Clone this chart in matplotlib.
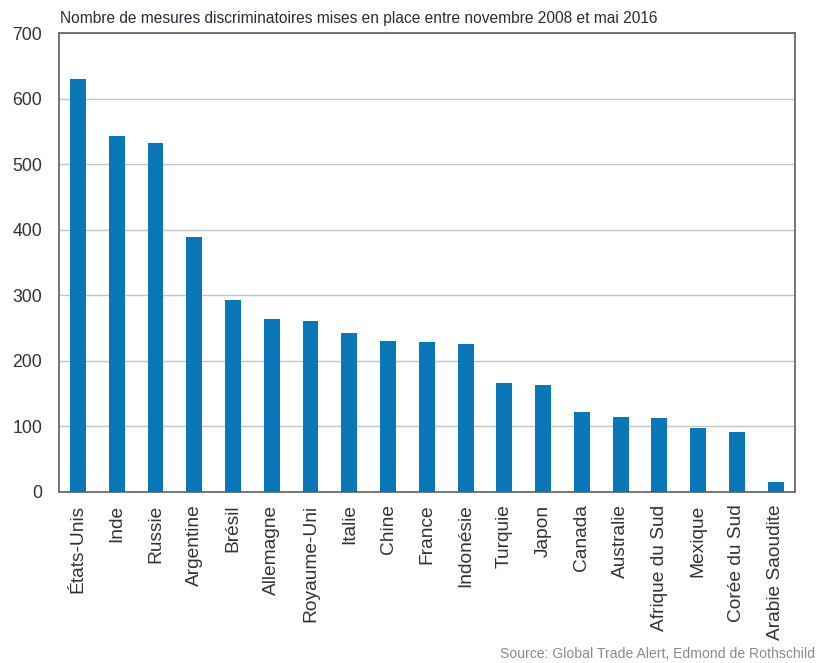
import matplotlib
matplotlib.use('Agg')
import matplotlib.pyplot as plt

matplotlib.rcParams['font.family'] = ['Liberation Sans', 'DejaVu Sans']

# Data
countries = ['États-Unis', 'Inde', 'Russie', 'Argentine', 'Brésil', 'Allemagne',
             'Royaume-Uni', 'Italie', 'Chine', 'France', 'Indonésie', 'Turquie',
             'Japon', 'Canada', 'Australie', 'Afrique du Sud', 'Mexique',
             'Corée du Sud', 'Arabie Saoudite']
measures = [630, 543, 533, 389, 293, 264, 261, 242, 231, 229, 226, 166,
            163, 122, 115, 113, 97, 91, 15]
y_ticks = [0, 100, 200, 300, 400, 500, 600, 700]

fig = plt.figure(figsize=(8.23, 6.63), dpi=100)
ax = fig.add_axes([0.0717, 0.258, 0.8943, 0.6915])

x = list(range(len(countries)))
ax.bar(x, measures, width=0.41, color='#0a78b8', zorder=3)

ax.set_xlim(-0.49, len(countries) - 1 + 0.50)
ax.set_ylim(0, 700)
ax.set_yticks(y_ticks)
ax.set_yticklabels([str(v) for v in y_ticks], fontsize=12.7, color='#333333')
ax.set_xticks(x)
ax.set_xticklabels(countries, rotation=90, fontsize=13.8, color='#333333')
ax.tick_params(axis='both', length=0)
ax.tick_params(axis='y', pad=12)
ax.tick_params(axis='x', pad=9)

ax.grid(axis='y', color='#c4c4c4', linewidth=1, zorder=0)
for side in ['top', 'right', 'bottom', 'left']:
    ax.spines[side].set_color('#6a6a6a')
    ax.spines[side].set_linewidth(1.3)

fig.text(0.073, 0.972, 'Nombre de mesures discriminatoires mises en place entre novembre 2008 et mai 2016',
         fontsize=11.2, color='#2b2b3a', ha='left', va='center')
fig.text(0.99, 0.003, 'Source: Global Trade Alert, Edmond de Rothschild',
         fontsize=10.1, color='#8a8a8a', ha='right', va='bottom')

plt.savefig('out.png', dpi=100)
plt.close()
